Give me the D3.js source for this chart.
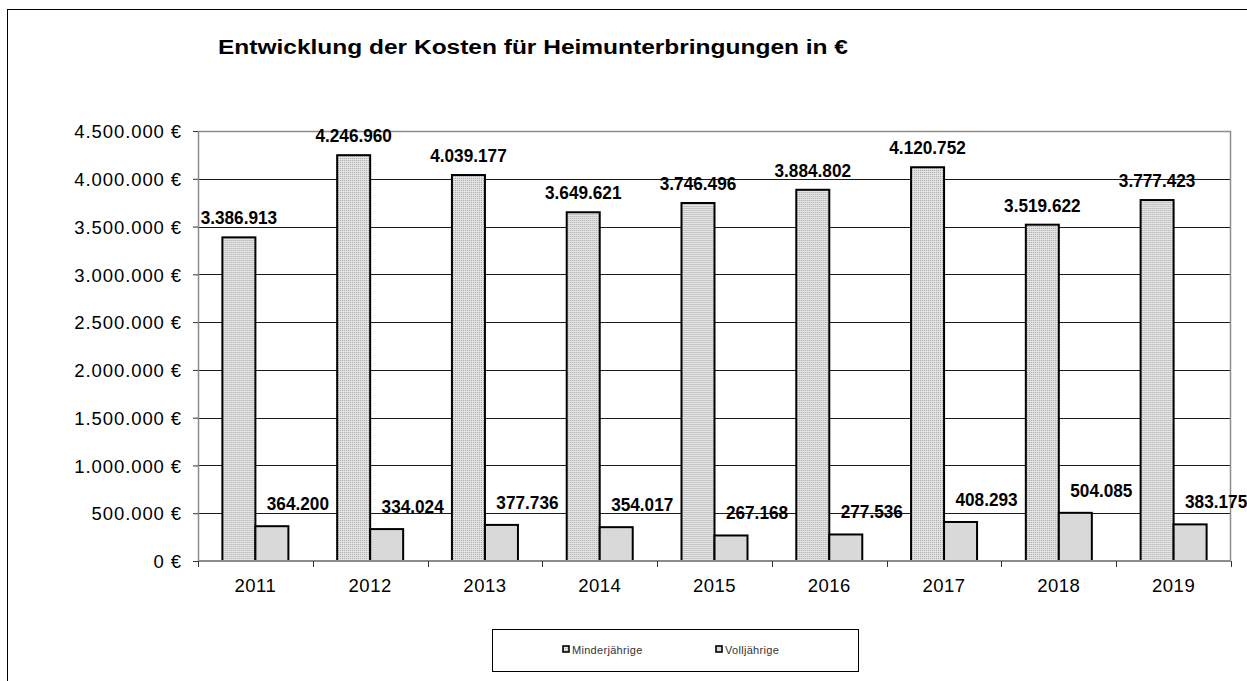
<!DOCTYPE html>
<html>
<head>
<meta charset="utf-8">
<script src="https://cdn.jsdelivr.net/npm/d3@7"></script>
<style>
    body { margin: 0; background: #fff; }
    svg { display: block; font-family: 'Liberation Sans', Arial, sans-serif; }
</style>
</head>
<body>
<svg id="chart" width="1247" height="681"></svg>
<script>
    'use strict';

    // data
    const years = ['2011', '2012', '2013', '2014', '2015', '2016', '2017', '2018', '2019'];
    const minderjaehrige = [3386913, 4246960, 4039177, 3649621, 3746496, 3884802, 4120752, 3519622, 3777423];
    const volljaehrige = [364200, 334024, 377736, 354017, 267168, 277536, 408293, 504085, 383175];
    const seriesNames = ['Minderjährige', 'Volljährige'];
    const yTicks = [0, 500000, 1000000, 1500000, 2000000, 2500000, 3000000, 3500000, 4000000, 4500000];
    const title = 'Entwicklung der Kosten für Heimunterbringungen  in €';

    let plot = {left: 198, right: 1231, top: 131, bottom: 561},
        barWidth = 33,
        gridColor = '#1a1a1a',
        frameColor = '#8c8c8c',
        voll_fill = '#d9d9d9',
        numberFormat = d3.formatLocale({decimal: ',', thousands: '.', grouping: [3], currency: ['', ' €']}).format(',d');

    const svg = d3.select('#chart');

    // dotted fill used for the Minderjährige bars
    const pattern = svg.append('defs')
      .append('pattern')
        .attr('id', 'dots')
        .attr('width', 2)
        .attr('height', 2)
        .attr('patternUnits', 'userSpaceOnUse');

    pattern.append('rect').attr('width', 2).attr('height', 2).attr('fill', '#e4e4e4');
    pattern.append('rect').attr('width', 1).attr('height', 1).attr('fill', '#a8a8a8');

    const fills = ['url(#dots)', voll_fill];

    const x = d3.scaleBand()
        .domain(years)
        .range([plot.left, plot.right]);

    const y = d3.scaleLinear()
        .domain([0, 4500000])
        .range([plot.bottom, plot.top]);

    // outer frame
    svg.append('rect')
        .attr('x', 7.5)
        .attr('y', 9.5)
        .attr('width', 1300)
        .attr('height', 700)
        .attr('fill', 'none')
        .attr('stroke', '#000')
        .attr('stroke-width', 1);

    svg.append('text')
        .attr('x', 218)
        .attr('y', 54)
        .attr('font-size', 20)
        .attr('font-weight', 'bold')
        .attr('textLength', 630)
        .attr('lengthAdjust', 'spacingAndGlyphs')
        .attr('fill', '#000')
        .text(title);

    // gridlines
    svg.append('g')
        .selectAll('line')
        .data(yTicks.filter(d => d > 0 && d < 4500000))
        .join('line')
          .attr('x1', plot.left)
          .attr('x2', plot.right)
          .attr('y1', d => Math.round(y(d)) + 0.5)
          .attr('y2', d => Math.round(y(d)) + 0.5)
          .attr('stroke', gridColor)
          .attr('stroke-width', 1);

    // plot frame (top and right)
    svg.append('path')
        .attr('d', `M${plot.left},${plot.top + 0.5}H${plot.right - 0.5}V${plot.bottom}`)
        .attr('fill', 'none')
        .attr('stroke', frameColor)
        .attr('stroke-width', 1.5);

    // y axis
    const yAxis = svg.append('g')
        .attr('transform', `translate(${plot.left},0)`)
        .call(d3.axisLeft(y).tickValues(yTicks).tickSize(5).tickSizeOuter(0).tickFormat(d => numberFormat(d)));

    yAxis.select('.domain').attr('stroke', frameColor).attr('stroke-width', 1.5);
    yAxis.selectAll('.tick line').attr('stroke', '#333');
    yAxis.selectAll('.tick text')
        .attr('x', -16)
        .attr('dy', '0.36em')
        .attr('font-size', 18.5)
        .attr('letter-spacing', 0.9)
        .attr('fill', '#000')
        .text(d => numberFormat(d) + ' €');

    // bars
    const groups = svg.append('g')
        .selectAll('g')
        .data(years)
        .join('g')
          .attr('transform', d => `translate(${x(d) + x.bandwidth() / 2},0)`);

    [minderjaehrige, volljaehrige].forEach(function(values, s) {
        groups.append('rect')
            .attr('x', s === 0 ? -barWidth : 0)
            .attr('y', (d, i) => y(values[i]))
            .attr('width', barWidth)
            .attr('height', (d, i) => y(0) - y(values[i]))
            .attr('fill', fills[s])
            .attr('stroke', '#000')
            .attr('stroke-width', 2);
    });

    // x axis
    const xAxis = svg.append('g')
        .attr('transform', `translate(0,${plot.bottom})`);

    xAxis.append('line')
        .attr('x1', plot.left)
        .attr('x2', plot.right)
        .attr('stroke', frameColor)
        .attr('stroke-width', 2);

    xAxis.selectAll('.tick-mark')
        .data(years.concat(['end']))
        .join('line')
          .attr('x1', (d, i) => Math.round(plot.left + i * x.bandwidth()) + 0.5)
          .attr('x2', (d, i) => Math.round(plot.left + i * x.bandwidth()) + 0.5)
          .attr('y1', 0)
          .attr('y2', 6)
          .attr('stroke', '#333');

    xAxis.selectAll('text')
        .data(years)
        .join('text')
          .attr('x', d => x(d) + x.bandwidth() / 2)
          .attr('y', 31)
          .attr('text-anchor', 'middle')
          .attr('font-size', 18.5)
          .attr('letter-spacing', 0.5)
          .attr('fill', '#000')
          .text(d => d);

    // value labels
    function drawLabels(values, dx, dy) {
        groups.append('text')
            .attr('transform', (d, i) => `translate(${dx},${y(values[i]) + dy}) scale(0.93,1)`)
            .attr('text-anchor', 'middle')
            .attr('font-size', 18.5)
            .attr('font-weight', 'bold')
            .attr('fill', '#000')
            .text((d, i) => numberFormat(values[i]));
    }

    drawLabels(minderjaehrige, -barWidth / 2, -13);
    drawLabels(volljaehrige, barWidth / 2 + 26, -16);

    // legend
    const legend = svg.append('g')
        .attr('transform', 'translate(492,629)');

    legend.append('rect')
        .attr('x', 0.5)
        .attr('y', 0.5)
        .attr('width', 366)
        .attr('height', 42)
        .attr('fill', '#fff')
        .attr('stroke', '#000');

    const legendItems = legend.selectAll('g')
        .data(seriesNames)
        .join('g')
          .attr('transform', (d, i) => `translate(${i === 0 ? 71 : 224},17)`);

    legendItems.append('rect')
        .attr('width', 6)
        .attr('height', 6)
        .attr('fill', (d, i) => fills[i])
        .attr('stroke', '#000')
        .attr('stroke-width', 1.6);

    legendItems.append('text')
        .attr('x', 9)
        .attr('y', 7.5)
        .attr('font-size', 11)
        .attr('letter-spacing', 0.3)
        .attr('fill', '#333')
        .text(d => d);
</script>
</body>
</html>
